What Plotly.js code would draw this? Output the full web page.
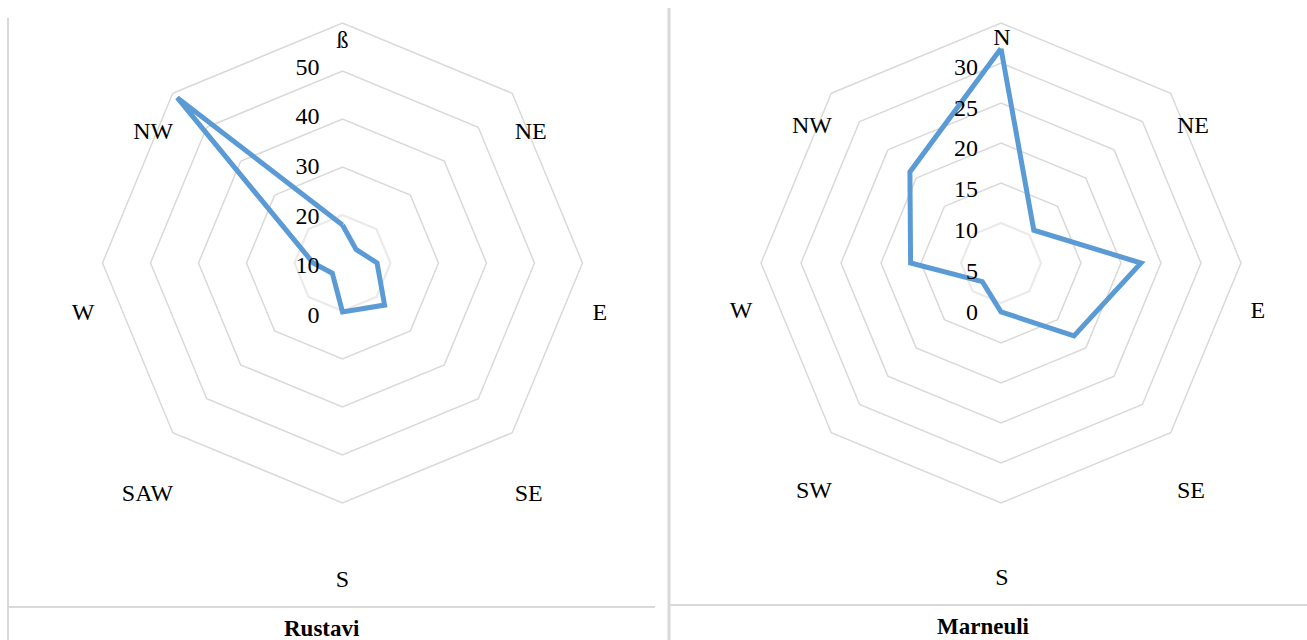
<!DOCTYPE html>
<html>
<head>
<meta charset="utf-8">
<script src="https://cdn.plot.ly/plotly-3.0.1.min.js"></script>
<style>html,body{margin:0;padding:0;background:#fff;}#chart{width:1307px;height:640px;}</style>
</head>
<body>
<div id="chart"></div>
<script>
// ---- data ----
const rustaviDirs = ['ß', 'NE', 'E', 'SE', 'S', 'SAW', 'W', 'NW'];
const rustaviValues = [7.9, 4.0, 7.2, 12.4, 10.2, 3.0, 6.1, 48.7];
const marneuliDirs = ['N', 'NE', 'E', 'SE', 'S', 'SW', 'W', 'NW'];
const marneuliValues = [26.8, 5.8, 17.5, 12.9, 6.1, 3.3, 11.3, 16.1];
const rustaviTicks = [0, 10, 20, 30, 40, 50];
const marneuliTicks = [0, 5, 10, 15, 20, 25, 30];
const titles = ['Rustavi', 'Marneuli'];

// ---- layout helpers ----
const W = 1307, H = 640;
function dom(cx, cy, r) {
  return { x: [(cx - r) / W, (cx + r) / W], y: [1 - (cy + r) / H, 1 - (cy - r) / H] };
}
const FONT = 'Liberation Serif, DejaVu Serif, serif';
const GRID = '#d9d9d9';
const INNER = '#ebebeb';
const BLUE = '#5B9BD5';
const TXT = { family: FONT, size: 24, color: '#000' };

function closed(a) { return a.concat([a[0]]); }
function ring(dirs, v) { return closed(dirs.map(() => v)); }
function pick(a, idx) { return idx.map(i => a[i]); }
const VERT = [0, 4], HORZ = [2, 6], DIAG = [1, 3, 5, 7];

function carrier(dirs, vals, sp) {
  return { type: 'scatterpolar', subplot: sp, mode: 'lines',
    r: closed(vals), theta: closed(dirs),
    line: { color: 'rgba(0,0,0,0)', width: 0 }, hoverinfo: 'skip', showlegend: false };
}
function chartTraces(dirs, vals, ticks, p) {
  const t = [
    // lighter innermost grid ring (as drawn in the original)
    { type: 'scatterpolar', subplot: p[0], mode: 'lines',
      r: ring(dirs, ticks[1]), theta: closed(dirs),
      line: { color: INNER, width: 2 }, hoverinfo: 'skip', showlegend: false },
    { type: 'scatterpolar', subplot: p[0], mode: 'lines',
      r: closed(vals), theta: closed(dirs),
      line: { color: BLUE, width: 5 }, hoverinfo: 'skip', showlegend: false }
  ];
  for (let i = 1; i < p.length; i++) t.push(carrier(dirs, vals, p[i]));
  return t;
}

const traces = chartTraces(rustaviDirs, rustaviValues, rustaviTicks, ['polar', 'polar2', 'polar3', 'polar4', 'polar5'])
  .concat(chartTraces(marneuliDirs, marneuliValues, marneuliTicks, ['polar6', 'polar7', 'polar8', 'polar9', 'polar10']));

function angAxis(dirs, extra) {
  return Object.assign({ type: 'category', categoryorder: 'array', categoryarray: dirs,
    direction: 'clockwise', rotation: 90, showgrid: false, showline: false,
    showticklabels: false, ticks: '' }, extra || {});
}
function radAxis(ticks, extra) {
  return Object.assign({ range: [ticks[0], ticks[ticks.length - 1]], tickvals: ticks,
    showgrid: false, showline: false, showticklabels: false, ticks: '' }, extra || {});
}
function gridPolar(cx, cy, r, dirs, ticks) {
  return { domain: dom(cx, cy, r), bgcolor: 'rgba(0,0,0,0)', gridshape: 'linear',
    angularaxis: angAxis(dirs, { showline: true, linecolor: GRID, linewidth: 1.5 }),
    radialaxis: radAxis(ticks, { showgrid: true, gridcolor: GRID, gridwidth: 1.5 }) };
}
function angLabelPolar(cx, cy, r, dirs, ticks, idx) {
  const sub = pick(dirs, idx);
  return { domain: dom(cx, cy, r), bgcolor: 'rgba(0,0,0,0)', gridshape: 'linear',
    angularaxis: angAxis(dirs, { showticklabels: true, tickfont: TXT,
      tickmode: 'array', tickvals: sub, ticktext: sub }),
    radialaxis: radAxis(ticks) };
}
function radLabelPolar(cx, cy, r, dirs, ticks) {
  return { domain: dom(cx, cy, r), bgcolor: 'rgba(0,0,0,0)', gridshape: 'linear',
    angularaxis: angAxis(dirs),
    radialaxis: radAxis(ticks, { angle: 90, side: 'counterclockwise', tickangle: 90,
      showticklabels: true, ticks: 'outside', ticklen: 14, tickcolor: 'rgba(0,0,0,0)', tickfont: TXT }) };
}

function px(x) { return x / W; }
function py(y) { return 1 - y / H; }
const lineStyle = { color: GRID, width: 2 };
const shapes = [
  { type: 'line', xref: 'paper', yref: 'paper', x0: px(8), x1: px(8), y0: py(18), y1: py(640), line: lineStyle },
  { type: 'line', xref: 'paper', yref: 'paper', x0: px(669), x1: px(669), y0: py(8), y1: py(640), line: { color: GRID, width: 3 } },
  { type: 'line', xref: 'paper', yref: 'paper', x0: px(8), x1: px(655), y0: py(607), y1: py(607), line: lineStyle },
  { type: 'line', xref: 'paper', yref: 'paper', x0: px(670), x1: px(1307), y0: py(605), y1: py(605), line: lineStyle }
];

const annotations = [
  { text: '<b>' + titles[0] + '</b>', x: px(322), y: py(628), xref: 'paper', yref: 'paper',
    showarrow: false, font: { family: FONT, size: 23, color: '#000' }, xanchor: 'center', yanchor: 'middle' },
  { text: '<b>' + titles[1] + '</b>', x: px(983), y: py(626), xref: 'paper', yref: 'paper',
    showarrow: false, font: { family: FONT, size: 23, color: '#000' }, xanchor: 'center', yanchor: 'middle' }
];

const layout = {
  width: W, height: H,
  margin: { l: 0, r: 0, t: 0, b: 0 },
  paper_bgcolor: '#fff',
  showlegend: false,
  polar:   gridPolar(342.5, 263, 240, rustaviDirs, rustaviTicks),
  polar2:  angLabelPolar(342.5, 307.5, 254.5, rustaviDirs, rustaviTicks, VERT),
  polar3:  angLabelPolar(343.5, 312, 248.5, rustaviDirs, rustaviTicks, HORZ),
  polar4:  angLabelPolar(344, 307.5, 241, rustaviDirs, rustaviTicks, DIAG),
  polar5:  radLabelPolar(342.5, 315, 248, rustaviDirs, rustaviTicks),
  polar6:  gridPolar(1001, 263, 240, marneuliDirs, marneuliTicks),
  polar7:  angLabelPolar(1002, 305, 255, marneuliDirs, marneuliTicks, VERT),
  polar8:  angLabelPolar(1001.5, 310, 248.5, marneuliDirs, marneuliTicks, HORZ),
  polar9:  angLabelPolar(1004.5, 303, 243.5, marneuliDirs, marneuliTicks, DIAG),
  polar10: radLabelPolar(1001, 312, 245, marneuliDirs, marneuliTicks),
  shapes: shapes,
  annotations: annotations
};

Plotly.newPlot('chart', traces, layout, { displayModeBar: false, staticPlot: true });
</script>
</body>
</html>
